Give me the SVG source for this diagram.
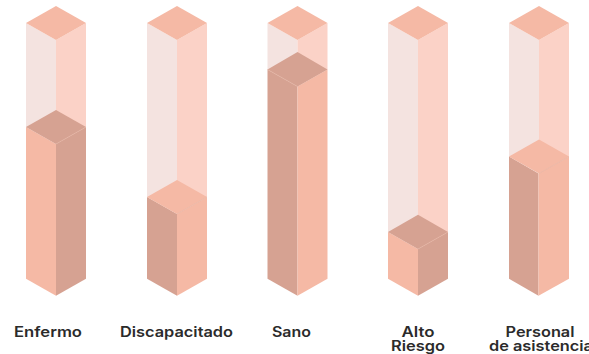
<svg xmlns="http://www.w3.org/2000/svg" width="589" height="354" viewBox="0 0 589 354">
<style>
.cap{fill:#f5b9a5}
.gl{fill:#f4e3e0}
.gr{fill:#fbd2c7}
.m{fill:#f5b9a5}
.d{fill:#d6a292}
.seam{fill:none;stroke:#e6b5a5;stroke-width:0.6}
text{font-family:"Inter","Liberation Sans",sans-serif;font-weight:600;font-size:14.5px;fill:#2b2b2b;text-anchor:middle}
</style>
<rect width="589" height="354" fill="#ffffff"/>
<g id="enfermo">
<polygon class="gl" points="26,23 56,40 56,144 26,127"/>
<polygon class="gr" points="86,23 56,40 56,144 86,127"/>
<polygon class="cap" points="56,6 86,23 56,40 26,23"/>
<polygon class="m" points="26,127 56,144 56,295.7 26,278.7"/>
<polygon class="d" points="86,127 56,144 56,295.7 86,278.7"/>
<polygon class="d" points="56,110 86,127 56,144 26,127"/>
<line class="seam" x1="56" y1="144" x2="86" y2="127"/>
<text x="48" y="337" textLength="68" lengthAdjust="spacingAndGlyphs">Enfermo</text>
</g>
<g id="discapacitado">
<polygon class="gl" points="147,23 177,40 177,214 147,197"/>
<polygon class="gr" points="207,23 177,40 177,214 207,197"/>
<polygon class="cap" points="177,6 207,23 177,40 147,23"/>
<polygon class="d" points="147,197 177,214 177,295.7 147,278.7"/>
<polygon class="m" points="207,197 177,214 177,295.7 207,278.7"/>
<polygon class="m" points="177,180 207,197 177,214 147,197"/>
<line class="seam" x1="177" y1="214" x2="207" y2="197"/>
<text x="176.5" y="337" textLength="113" lengthAdjust="spacingAndGlyphs">Discapacitado</text>
</g>
<g id="sano">
<polygon class="gl" points="267.5,23 297.5,40 297.5,86.5 267.5,69.5"/>
<polygon class="gr" points="327.5,23 297.5,40 297.5,86.5 327.5,69.5"/>
<polygon class="cap" points="297.5,6 327.5,23 297.5,40 267.5,23"/>
<polygon class="d" points="267.5,69.5 297.5,86.5 297.5,295.7 267.5,278.7"/>
<polygon class="m" points="327.5,69.5 297.5,86.5 297.5,295.7 327.5,278.7"/>
<polygon class="d" points="297.5,52 327.5,69.5 297.5,86.5 267.5,69.5"/>
<line class="seam" x1="267.5" y1="69.5" x2="297.5" y2="86.5"/>
<text x="291.5" y="337" textLength="39" lengthAdjust="spacingAndGlyphs">Sano</text>
</g>
<g id="alto-riesgo">
<polygon class="gl" points="388,23 418,40 418,249 388,232"/>
<polygon class="gr" points="448,23 418,40 418,249 448,232"/>
<polygon class="cap" points="418,6 448,23 418,40 388,23"/>
<polygon class="m" points="388,232 418,249 418,295.7 388,278.7"/>
<polygon class="d" points="448,232 418,249 418,295.7 448,278.7"/>
<polygon class="d" points="418,214.7 448,232 418,249 388,232"/>
<line class="seam" x1="418" y1="249" x2="448" y2="232"/>
<text x="418" y="337" textLength="33" lengthAdjust="spacingAndGlyphs">Alto</text>
<text x="418" y="351" textLength="54" lengthAdjust="spacingAndGlyphs">Riesgo</text>
</g>
<g id="personal-asistencia">
<polygon class="gl" points="509,23 539,40 539,173.5 509,156.5"/>
<polygon class="gr" points="569,23 539,40 539,173.5 569,156.5"/>
<polygon class="cap" points="539,6 569,23 539,40 509,23"/>
<polygon class="d" points="509,156.5 538.5,173.5 538.5,295.7 509,278.7"/>
<polygon class="m" points="569,156.5 538.5,173.5 538.5,295.7 569,278.7"/>
<polygon class="m" points="539,139.5 569,156.5 539,173.5 509,156.5"/>
<line class="seam" x1="539" y1="173.5" x2="569" y2="156.5"/>
<text x="540" y="337" textLength="69" lengthAdjust="spacingAndGlyphs">Personal</text>
<text x="541" y="351" textLength="104" lengthAdjust="spacingAndGlyphs">de asistencia</text>
</g>
</svg>
